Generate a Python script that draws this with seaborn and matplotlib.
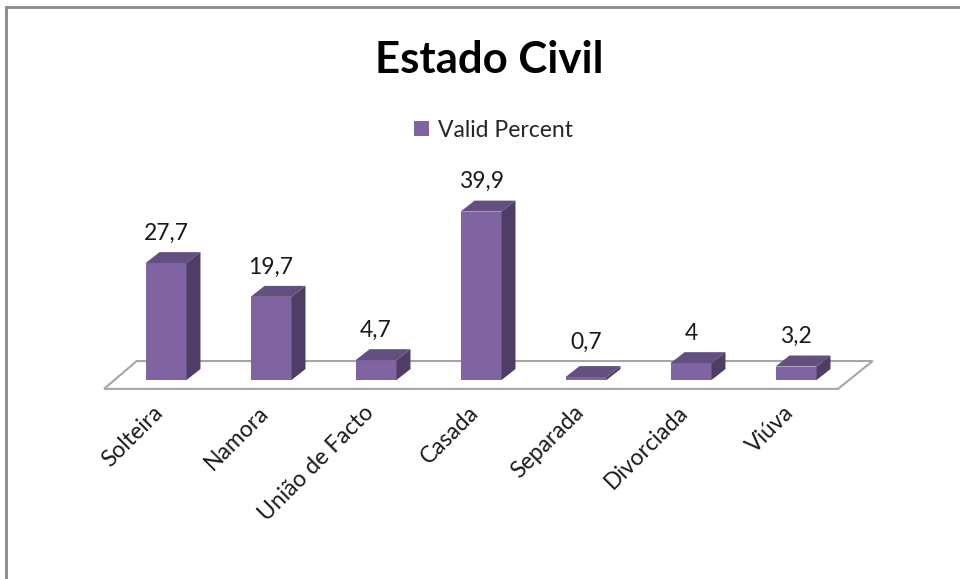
import numpy as np
import pandas as pd
import seaborn as sns
import matplotlib.pyplot as plt
import matplotlib.transforms as mtransforms
from matplotlib.patches import Polygon, Rectangle

categories = ['Solteira', 'Namora', 'União de Facto', 'Casada', 'Separada', 'Divorciada', 'Viúva']
valid_percent = [27.7, 19.7, 4.7, 39.9, 0.7, 4.0, 3.2]
value_labels = ['27,7', '19,7', '4,7', '39,9', '0,7', '4', '3,2']

df = pd.DataFrame({'Estado': categories, 'Valid Percent': valid_percent})

sns.set_style('white')
plt.rcParams['font.family'] = ['Lato', 'DejaVu Sans']

front = '#8064A2'
top_col = '#64507F'
side_col = '#4F3D66'

fig = plt.figure(figsize=(9.6, 5.79), dpi=100)
ax = fig.add_axes([0.0964, 0.3218, 0.83125, 0.3718])

w = 0.39
dx, dy = 0.133, 2.6
sns.barplot(data=df, x='Estado', y='Valid Percent', color=front, width=w,
            saturation=1, label='Valid Percent', ax=ax, zorder=3, linewidth=0)

n = len(categories)
# floor
floor = Polygon([(-0.59, -2.1), (n - 0.6, -2.1), (n - 0.27, 4.5), (-0.28, 4.5)],
                closed=True, facecolor='white', edgecolor='#a6a6a6', lw=1.5, zorder=1)
ax.add_patch(floor)

# 3d faces
for i, v in enumerate(valid_percent):
    r = i + w / 2
    l = i - w / 2
    ax.add_patch(Polygon([(l, v), (r, v), (r + dx, v + dy), (l + dx, v + dy)],
                         closed=True, facecolor=top_col, edgecolor='none', zorder=3))
    ax.add_patch(Polygon([(r, 0), (r, v), (r + dx, v + dy), (r + dx, dy)],
                         closed=True, facecolor=side_col, edgecolor='none', zorder=3))
    ax.text(i, max(v, 1.8) + dy + 2.0, value_labels[i], ha='center', va='bottom',
            fontsize=16.5, color='#1a1a1a')

ax.set_xlim(-0.7, 6.9)
ax.set_ylim(-3, 48)
ax.set_xlabel('')
ax.set_ylabel('')
ax.set_yticks([])
ax.tick_params(axis='x', length=0, pad=12)
ax.set_xticks(range(n))
ax.set_xticklabels(categories, rotation=45, ha='right', va='center', rotation_mode='anchor',
                   fontsize=16.5, color='#1a1a1a')
shift = mtransforms.ScaledTranslation(-0.06, 0, fig.dpi_scale_trans)
for lab in ax.get_xticklabels():
    lab.set_transform(lab.get_transform() + shift)
sns.despine(ax=ax, left=True, bottom=True)
ax.patch.set_alpha(0)

leg = ax.legend(loc='center', bbox_to_anchor=(0.514, 0.775), bbox_transform=fig.transFigure,
                frameon=False, fontsize=16.5, handlelength=0.65, handleheight=0.65,
                handletextpad=0.4)

fig.text(0.51, 0.896, 'Estado Civil', ha='center', va='center', fontsize=31.5,
         fontweight='bold', color='black')

fig.patches.append(Rectangle((0.006, -0.05), 1.1, 1.0379, transform=fig.transFigure,
                             fill=False, edgecolor='#888888', lw=2))

fig.savefig('out.png', dpi=100)
